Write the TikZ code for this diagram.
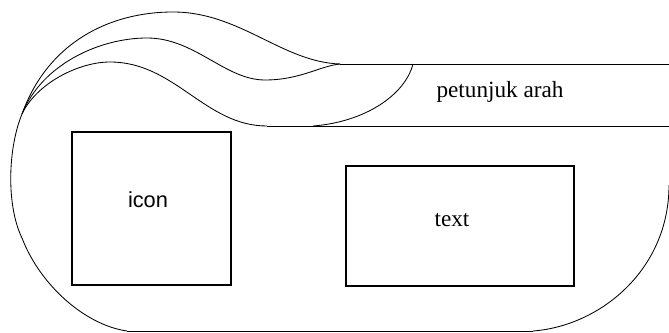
\documentclass[tikz,border=0pt]{standalone}
\usepackage{fontspec}
\setmainfont{Liberation Serif}
\setsansfont{Liberation Sans}
\usepackage{tikz}
\usetikzlibrary{calc, positioning}

\tikzset{
  outline/.style={line width=0.6pt},
  panel/.style={draw, line width=0.8pt, inner sep=0pt},
  caption/.style={font=\fontsize{16.5}{18}\selectfont}
}

\begin{document}
\begin{tikzpicture}[x=0.025cm, y=-0.025cm]
          \useasboundingbox (0, 0) rectangle (669, 333);
          \coordinate (fork) at (22, 114);
          \coordinate (topjoin) at (340, 64);
          \coordinate (botjoin) at (267, 126);
          \coordinate (arcstart) at (413, 64);
          \coordinate (botleft) at (127, 331);
          \coordinate (botright) at (533, 331);
          \coordinate (rightend) at (669, 64);
          \coordinate (rightlow) at (669, 126);
          \draw[outline] (fork) .. controls (48, 42) and (110, 12) .. (173, 12)
            .. controls (240, 12) and (282, 62) .. (topjoin);
          \draw[outline] (fork) .. controls (42, 64) and (100, 38) .. (147, 38)
            .. controls (195, 38) and (225, 80) .. (265, 80)
            .. controls (300, 80) and (320, 66) .. (topjoin);
          \draw[outline] (fork) .. controls (36, 84) and (78, 62) .. (110, 62)
            .. controls (175, 62) and (205, 126) .. (botjoin);
          \draw[outline] (topjoin) -- (rightend);
          \draw[outline] (botjoin) -- (rightlow);
          \draw[outline] (arcstart) .. controls (405, 95) and (365, 122) .. (313, 126);
          \draw[outline] (fork) .. controls (8, 148) and (6, 205) .. (22, 238)
            .. controls (40, 285) and (85, 325) .. (botleft);
          \draw[outline] (botleft) -- (botright);
          \draw[outline] (botright) .. controls (600, 326) and (669, 270) .. (669, 185);
          \node[caption] (arah) at (500, 92) {petunjuk arah};
          \node[panel, minimum width=159*0.025cm, minimum height=153*0.025cm] (icon) at (151.5, 208.5) {};
          \node[panel, minimum width=228*0.025cm, minimum height=120*0.025cm] (text) at (460, 226) {};
          \node[font=\sffamily\fontsize{15.5}{17}\selectfont] (iconlabel) at ($(icon.center)+(-3.5,-8.5)$) {icon};
          \node[caption] (textlabel) at ($(text.center)+(-8,-6)$) {text};
        \end{tikzpicture}
\end{document}
